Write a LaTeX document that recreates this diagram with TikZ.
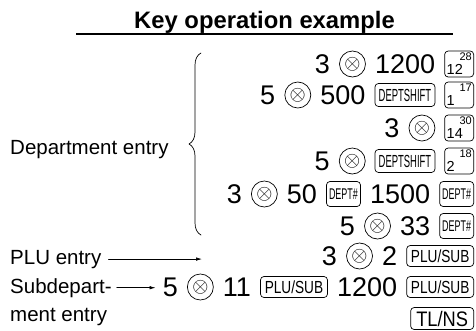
\documentclass[tikz,border=0pt]{standalone}
\usepackage{fontspec}
\setmainfont{Liberation Sans}
\usepackage{graphicx}
\usetikzlibrary{arrows.meta,positioning,decorations.pathreplacing}
\newcommand{\squeeze}[2]{\scalebox{#1}[1]{#2}}
\tikzset{
  every picture/.style={line cap=round, line join=round},
  num/.style={inner sep=0pt, font=\fontsize{27}{30}\selectfont},
  lbl/.style={inner sep=0pt, font=\fontsize{20.5}{24}\selectfont},
  xkey/.style={circle, draw, line width=0.7pt, minimum size=26pt, inner sep=0pt, font=\fontsize{20.74}{22}\selectfont},
  key/.style={draw, rounded corners=3.5pt, line width=0.7pt, inner sep=0pt},
  dkey/.style 2 args={key, minimum width=29pt, minimum height=26pt,
    label={[inner sep=2.2pt, anchor=south west, font=\fontsize{14.5}{15}\selectfont]south west:#1},
    label={[inner sep=2pt, anchor=north east, font=\fontsize{11}{12}\selectfont]north east:#2}},
  shiftkey/.style={key, minimum width=60pt, minimum height=23pt, font=\fontsize{17.5}{18}\selectfont},
  deptkey/.style={key, minimum width=34pt, minimum height=25pt, font=\fontsize{15.5}{16}\selectfont},
  plukey/.style={key, minimum width=67pt, minimum height=21pt, font=\fontsize{17.5}{18}\selectfont},
  tlkey/.style={key, minimum width=63pt, minimum height=22pt, font=\fontsize{21}{22}\selectfont},
  arr/.style={-{Latex[length=6pt,width=3.5pt]}, line width=0.7pt},
  brc/.style={decorate, decoration={brace, amplitude=12pt}, line width=0.7pt}
}

\begin{document}
\begin{tikzpicture}[x=1pt, y=1pt, node distance=9pt]
  \useasboundingbox (0,0) rectangle (476,-330);

  % title
  \node[inner sep=0pt, anchor=base, font=\bfseries\fontsize{23.8}{26}\selectfont] (title) at (264.5,-28) {Key operation example};
  \coordinate (ul1) at (76,-34);
  \coordinate (ul2) at (453,-34);
  \draw[line width=1.4pt, line cap=butt] (ul1) -- (ul2);

  % department entry
  \node[dkey={12}{28}, anchor=east] (r1k) at (474,-64) {};
  \node[num, left=of r1k] (r1n) {1200};
  \node[xkey, left=of r1n] (r1x) {$\otimes$};
  \node[num, left=of r1x] (r1q) {3};

  \node[dkey={1}{17}, anchor=east] (r2k) at (474,-95) {};
  \node[shiftkey, left=of r2k] (r2s) {\squeeze{0.54}{DEPTSHIFT}};
  \node[num, left=of r2s] (r2n) {500};
  \node[xkey, left=of r2n] (r2x) {$\otimes$};
  \node[num, left=of r2x] (r2q) {5};

  \node[dkey={14}{30}, anchor=east] (r3k) at (474,-128) {};
  \node[xkey, left=of r3k] (r3x) {$\otimes$};
  \node[num, left=of r3x] (r3q) {3};

  \node[dkey={2}{18}, anchor=east] (r4k) at (474,-161) {};
  \node[shiftkey, left=of r4k] (r4s) {\squeeze{0.54}{DEPTSHIFT}};
  \node[xkey, left=of r4s] (r4x) {$\otimes$};
  \node[num, left=of r4x] (r4q) {5};

  \node[deptkey, anchor=east] (r5k) at (474,-194) {\squeeze{0.58}{DEPT\#}};
  \node[num, left=of r5k] (r5n) {1500};
  \node[deptkey, left=of r5n] (r5d) {\squeeze{0.58}{DEPT\#}};
  \node[num, left=of r5d] (r5m) {50};
  \node[xkey, left=of r5m] (r5x) {$\otimes$};
  \node[num, left=of r5x] (r5q) {3};

  \node[deptkey, anchor=east] (r6k) at (474,-226) {\squeeze{0.58}{DEPT\#}};
  \node[num, left=of r6k] (r6n) {33};
  \node[xkey, left=of r6n] (r6x) {$\otimes$};
  \node[num, left=of r6x] (r6q) {5};

  \node[lbl, anchor=base west] (dep) at (10,-154) {Department entry};
  \coordinate (brtop) at (201,-53);
  \coordinate (brbot) at (201,-235);
  \draw[brc] (brbot) -- (brtop);

  % PLU entry
  \node[plukey, anchor=east] (r7k) at (474,-256) {\squeeze{0.78}{PLU/SUB}};
  \node[num, left=of r7k] (r7n) {2};
  \node[xkey, left=of r7n] (r7x) {$\otimes$};
  \node[num, left=of r7x] (r7q) {3};

  \node[lbl, anchor=base west] (plu) at (10,-264) {PLU entry};
  \coordinate (plutip) at (202,-258);
  \draw[arr, shorten <=7pt] (plu.east) -- (plu.east -| plutip);

  % subdepartment entry
  \node[plukey, anchor=east] (r8k) at (474,-287) {\squeeze{0.78}{PLU/SUB}};
  \node[num, left=of r8k] (r8n) {1200};
  \node[plukey, left=of r8n] (r8p) {\squeeze{0.78}{PLU/SUB}};
  \node[num, left=of r8p] (r8m) {11};
  \node[xkey, left=of r8m] (r8x) {$\otimes$};
  \node[num, left=of r8x] (r8q) {5};

  \node[lbl, anchor=base west] (sub) at (10,-293) {Subdepart-};
  \node[lbl, anchor=base west] (sub2) at (10,-321) {ment entry};
  \draw[arr, shorten <=5pt, shorten >=7pt] (sub.east) -- (sub.east -| r8q.west);

  \node[tlkey, anchor=east] (r9k) at (474,-318.5) {\squeeze{0.87}{TL/NS}};
\end{tikzpicture}
\end{document}
